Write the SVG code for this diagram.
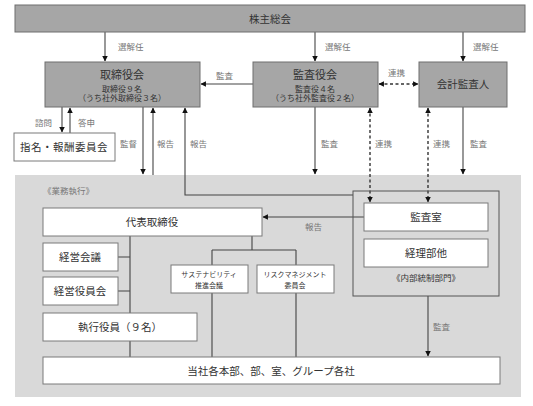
<svg xmlns="http://www.w3.org/2000/svg" width="533" height="406" viewBox="0 0 533 406">
<defs>
<style>
.g{fill:#a6a6a6;stroke:#6e6e6e;stroke-width:1}
.w{fill:#ffffff;stroke:#7a7a7a;stroke-width:1}
.t{font-family:"Noto Sans CJK JP","Noto Sans CJK SC",sans-serif;fill:#333;text-anchor:middle}
.l{font-family:"Noto Sans CJK JP","Noto Sans CJK SC",sans-serif;fill:#777;font-size:8.5px}
.c{fill:none;stroke:#444;stroke-width:1.1}
.d{fill:none;stroke:#333;stroke-width:1.4;stroke-dasharray:3,2.5}
</style>
<marker id="a" viewBox="0 0 10 10" refX="9" refY="5" markerWidth="5.5" markerHeight="5.5" orient="auto-start-reverse" markerUnits="userSpaceOnUse"><path d="M0,0L10,5L0,10z" fill="#111"/></marker>
</defs>
<rect x="0" y="0" width="533" height="406" fill="#fff"/>
<rect id="exec-area" x="15" y="175" width="506" height="222" fill="#d9d9d9"/>
<text class="l" x="43" y="194" font-size="9" fill="#888">《業務執行》</text>

<g id="connectors">
<path class="c" d="M105,32V61" marker-end="url(#a)"/>
<path class="c" d="M315,32V61" marker-end="url(#a)"/>
<path class="c" d="M463,32V61" marker-end="url(#a)"/>
<path class="c" d="M253,84H201" marker-end="url(#a)"/>
<path class="d" d="M379,84H418" marker-start="url(#a)" marker-end="url(#a)"/>
<path class="c" d="M62,107V132" marker-end="url(#a)"/>
<path class="c" d="M70,133V108" marker-end="url(#a)"/>
<path class="c" d="M143,107V174" marker-end="url(#a)"/>
<path class="c" d="M153,175V108" marker-end="url(#a)"/>
<path class="c" d="M353,195H185V108" marker-end="url(#a)"/>
<path class="c" d="M315,107V174" marker-end="url(#a)"/>
<path class="d" d="M370,108V202" marker-start="url(#a)" marker-end="url(#a)"/>
<path class="d" d="M428,108V202" marker-start="url(#a)" marker-end="url(#a)"/>
<path class="c" d="M463,107V174" marker-end="url(#a)"/>
<path class="c" d="M364,217H263" marker-end="url(#a)"/>
<path class="c" d="M130,236V313M130,341V357M118,257H130M118,291H130"/>
<path class="c" d="M252,236V250M212,250H296M212,250V265M296,250V265M212,293V357M296,293V357"/>
<path class="c" d="M428,296V356" marker-end="url(#a)"/>
</g>

<g id="labels">
<text class="l" x="118" y="50">選解任</text>
<text class="l" x="325" y="50">選解任</text>
<text class="l" x="473" y="50">選解任</text>
<text class="l" x="216" y="79">監査</text>
<text class="l" x="388" y="76">連携</text>
<text class="l" x="35" y="126">諮問</text>
<text class="l" x="78" y="126">答申</text>
<text class="l" x="120" y="147">監督</text>
<text class="l" x="157" y="147">報告</text>
<text class="l" x="190" y="147">報告</text>
<text class="l" x="321" y="147">監査</text>
<text class="l" x="375" y="147">連携</text>
<text class="l" x="433" y="147">連携</text>
<text class="l" x="470" y="147">監査</text>
<text class="l" x="305" y="230">報告</text>
<text class="l" x="433" y="330">監査</text>
</g>

<g id="shareholders"><rect class="g" x="15" y="5" width="510" height="27"/><text class="t" x="270" y="23" font-size="10.5">株主総会</text></g>
<g id="board"><rect class="g" x="45" y="62" width="155" height="45"/><text class="t" x="122" y="79" font-size="11">取締役会</text><text class="t" x="122" y="91.5" font-size="8">取締役９名</text><text class="t" x="122" y="101" font-size="8">（うち社外取締役３名）</text></g>
<g id="audit-board"><rect class="g" x="253" y="62" width="125" height="45"/><text class="t" x="315" y="79" font-size="11">監査役会</text><text class="t" x="315" y="91.5" font-size="8">監査役４名</text><text class="t" x="315" y="101" font-size="8">（うち社外監査役２名）</text></g>
<g id="accounting-auditor"><rect class="g" x="419" y="62" width="88" height="45"/><text class="t" x="463" y="88" font-size="10.5">会計監査人</text></g>
<g id="nomination"><rect class="w" x="14" y="133" width="101" height="28"/><text class="t" x="64" y="151" font-size="10.5" letter-spacing="0.5">指名・報酬委員会</text></g>
<g id="internal-control"><rect x="353" y="191" width="146" height="105" fill="none" stroke="#555" stroke-width="1"/><text class="t" x="426" y="281" font-size="8.5" fill="#777">《内部統制部門》</text></g>
<g id="ceo"><rect class="w" x="43" y="208" width="219" height="28"/><text class="t" x="152" y="226" font-size="10.5">代表取締役</text></g>
<g id="audit-office"><rect class="w" x="364" y="203" width="124" height="28"/><text class="t" x="426" y="221" font-size="10.5">監査室</text></g>
<g id="accounting"><rect class="w" x="364" y="239" width="124" height="28"/><text class="t" x="426" y="257" font-size="10.5">経理部他</text></g>
<g id="mgmt-meeting"><rect class="w" x="43" y="243" width="75" height="28"/><text class="t" x="80" y="261" font-size="10.5">経営会議</text></g>
<g id="mgmt-officers"><rect class="w" x="43" y="277" width="75" height="28"/><text class="t" x="80" y="295" font-size="10.5">経営役員会</text></g>
<g id="sustainability"><rect class="w" x="171" y="265" width="77" height="28"/><text class="t" x="209" y="277" font-size="7">サステナビリティ</text><text class="t" x="209" y="288" font-size="7">推進会議</text></g>
<g id="risk"><rect class="w" x="257" y="265" width="77" height="28"/><text class="t" x="295" y="277" font-size="7">リスクマネジメント</text><text class="t" x="295" y="288" font-size="7">委員会</text></g>
<g id="officers"><rect class="w" x="43" y="313" width="154" height="28"/><text class="t" x="120" y="331" font-size="10.5">執行役員（９名）</text></g>
<g id="divisions"><rect class="w" x="43" y="357" width="457" height="27"/><text class="t" x="271" y="375" font-size="10.5">当社各本部、部、室、グループ各社</text></g>
</svg>
